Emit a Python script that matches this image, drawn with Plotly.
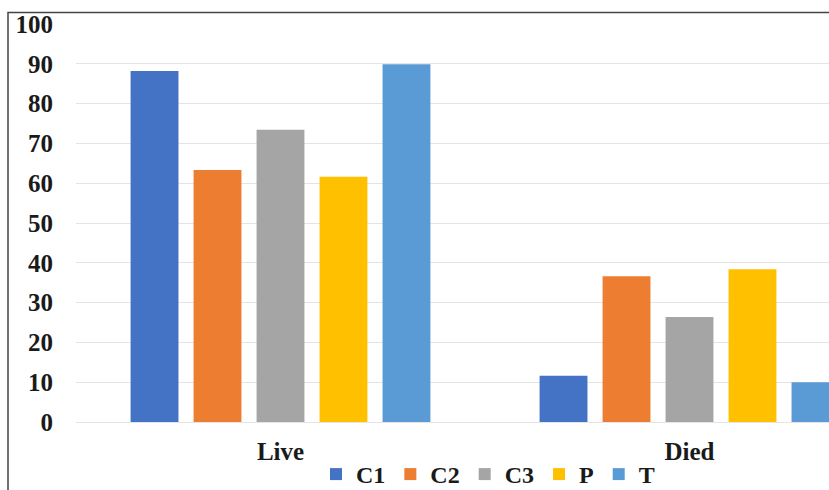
import plotly.graph_objects as go

# Outcome categories on the x axis
categories = ["Live", "Died"]

# Percentage of each group per outcome
series_names = ["C1", "C2", "C3", "P", "T"]
c1 = [88.2, 11.6]
c2 = [63.3, 36.6]
c3 = [73.4, 26.4]
p = [61.6, 38.4]
t = [89.9, 10.0]
series_values = [c1, c2, c3, p, t]

colors = ["#4472C4", "#ED7D31", "#A5A5A5", "#FFC000", "#5B9BD5"]

y_ticks = [0, 10, 20, 30, 40, 50, 60, 70, 80, 90, 100]

FONT_FAMILY = "Liberation Serif"

fig = go.Figure()
for name, vals, col in zip(series_names, series_values, colors):
    fig.add_trace(go.Bar(name=name, x=categories, y=vals, marker_color=col,
                         marker_line_width=0))

W, H = 829, 490
ML, MR, MT, MB = 76, 0, 24, 68
plot_w = W - ML - MR
plot_h = H - MT - MB


def px_to_paper_x(px):
    return (px - ML) / plot_w


def px_to_paper_y(py):
    return (H - MB - py) / plot_h


fig.update_layout(
    width=W, height=H,
    margin=dict(l=ML, r=MR, t=MT, b=MB, pad=0, autoexpand=False),
    paper_bgcolor="white", plot_bgcolor="white",
    barmode="group", bargap=0.23, bargroupgap=0.24,
    font=dict(family=FONT_FAMILY, color="#1a1a1a"),
    showlegend=True,
    legend=dict(orientation="h", x=px_to_paper_x(316), xanchor="left",
                y=px_to_paper_y(452), yanchor="top",
                font=dict(size=24, family=FONT_FAMILY, weight="bold", color="#1a1a1a"),
                itemwidth=30, traceorder="normal", bgcolor="rgba(0,0,0,0)"),
    xaxis=dict(type="category", range=[-0.5, -0.5 + plot_w / 409.0],
               showgrid=False, showline=False, ticks="", automargin=False,
               tickfont=dict(size=25, family=FONT_FAMILY, weight="bold", color="#1a1a1a"),
               ticklabelstandoff=12),
    yaxis=dict(range=[0, 100], tickvals=y_ticks, showgrid=True, automargin=False,
               gridcolor="#e4e4e4", gridwidth=1, zeroline=True,
               zerolinecolor="#e4e4e4", zerolinewidth=1, showline=False, ticks="",
               tickfont=dict(size=25, family=FONT_FAMILY, weight="bold", color="#1a1a1a"),
               ticklabelstandoff=22),
    shapes=[dict(type="rect", xref="paper", yref="paper",
                 x0=px_to_paper_x(8), x1=px_to_paper_x(900),
                 y0=px_to_paper_y(560), y1=px_to_paper_y(12.5),
                 line=dict(color="#444444", width=1.5), fillcolor="rgba(0,0,0,0)",
                 layer="above")],
)

fig.write_html("out.html")
